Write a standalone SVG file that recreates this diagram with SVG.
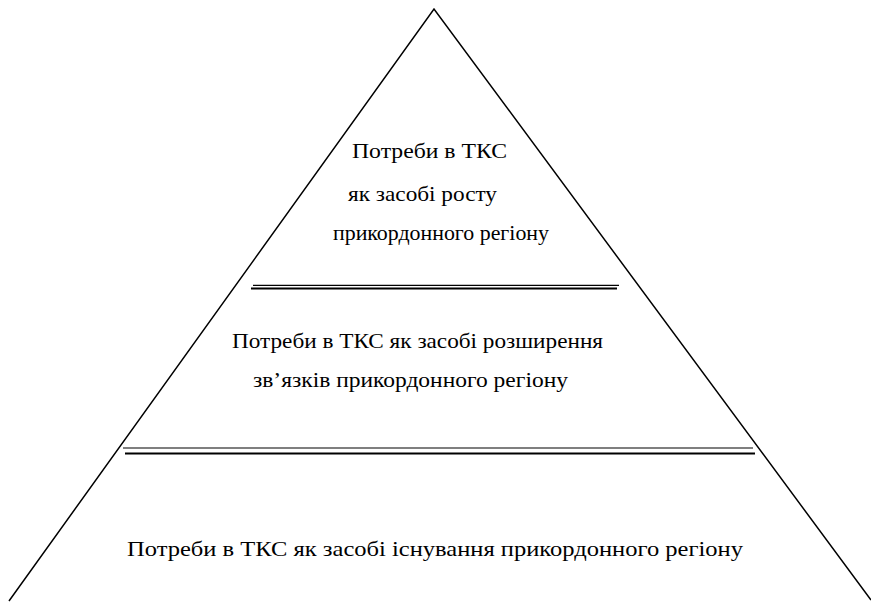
<svg xmlns="http://www.w3.org/2000/svg" width="871" height="603" viewBox="0 0 871 603">
<style>
.edge{stroke:#000;stroke-width:1.5;fill:none}
.thin{stroke:#000;stroke-width:1.2}
.bold{stroke:#000;stroke-width:2}
text{font-family:"Liberation Serif","Times New Roman",serif;font-size:21px;fill:#000}
</style>
<rect width="871" height="603" fill="#fff"/>
<g id="connectors">
<path class="edge" d="M9,601 L434,9 L871,600"/>
<line class="thin" x1="253" y1="285.3" x2="619" y2="285.3"/>
<line class="bold" x1="251" y1="288.5" x2="617" y2="288.5"/>
<line class="thin" x1="123" y1="448" x2="753" y2="448"/>
<line class="bold" x1="125" y1="453.5" x2="755" y2="453.5"/>
</g>
<g id="node-top">
<text x="352" y="158" textLength="155" lengthAdjust="spacingAndGlyphs">Потреби в ТКС</text>
<text x="348" y="201" textLength="149" lengthAdjust="spacingAndGlyphs">як засобі росту</text>
<text x="333" y="240" textLength="216" lengthAdjust="spacingAndGlyphs">прикордонного регіону</text>
</g>
<g id="node-middle">
<text x="232" y="348" textLength="371" lengthAdjust="spacingAndGlyphs">Потреби в ТКС як засобі розширення</text>
<text x="253" y="387" textLength="315" lengthAdjust="spacingAndGlyphs">зв’язків прикордонного регіону</text>
</g>
<g id="node-bottom">
<text x="127" y="556" textLength="616" lengthAdjust="spacingAndGlyphs">Потреби в ТКС як засобі існування прикордонного регіону</text>
</g>
</svg>
